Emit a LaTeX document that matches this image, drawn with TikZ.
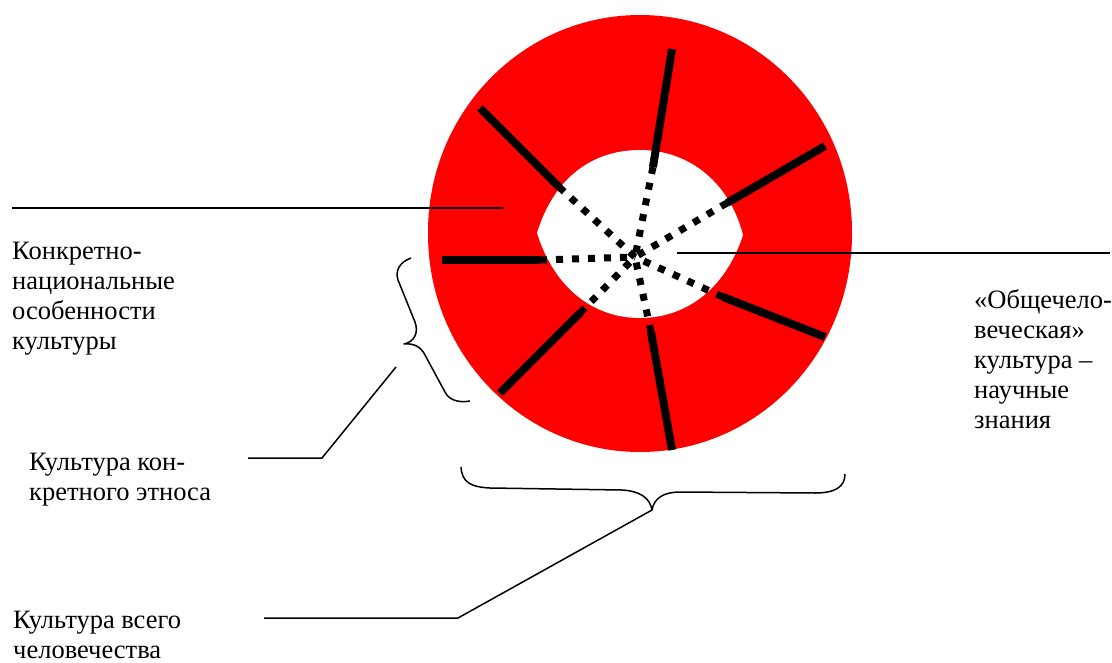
\documentclass[tikz,border=0pt]{standalone}
\usepackage{fontspec}
\setmainfont{Liberation Serif}
\begin{document}
\begin{tikzpicture}[x=1pt,y=-1pt,
  thin line/.style={draw=black,line width=1.5pt,line join=round},
  spoke solid/.style={draw=black,line width=8pt},
  spoke dotted/.style={draw=black,line width=7pt,dash pattern=on 7pt off 9pt},
  label text/.style={inner sep=0pt,anchor=base west,align=left,font={\fontsize{26.5}{30}\selectfont}}]
\useasboundingbox (0,0) rectangle (1112,662);
% red ring
\fill[red] (428,232) arc[start angle=180,end angle=360,x radius=212,y radius=217]
  -- (852,234) arc[start angle=0,end angle=180,x radius=212,y radius=218] -- cycle;
% white core
\fill[white] (537,233) .. controls (555,175) and (595,150) .. (640,150)
  .. controls (685,150) and (728,178) .. (743,235)
  .. controls (725,290) and (685,318) .. (640,318)
  .. controls (595,318) and (555,290) .. (537,233) -- cycle;
% spokes
\coordinate (C) at (635,257);
\coordinate (o1) at (672,49);  \coordinate (n1) at (653,167);
\coordinate (o2) at (480,108); \coordinate (n2) at (559,187);
\coordinate (o3) at (825,146); \coordinate (n3) at (727,203);
\coordinate (o4) at (442,260); \coordinate (n4) at (540,260);
\coordinate (o5) at (500,393); \coordinate (n5) at (580,313);
\coordinate (o6) at (672,450); \coordinate (n6) at (651,332);
\coordinate (o7) at (825,337); \coordinate (n7) at (723,297);
\foreach \k in {1,...,7}{
  \draw[spoke solid] (o\k) -- (n\k);
  \draw[spoke dotted] (n\k) -- (C);
}
% texts (anchor is the baseline of the last line)
\node[label text] (t1) at (12,349) {Конкретно-\\национальные\\особенности\\культуры};
\node[label text] (t2) at (974,428) {«Общечело-\\веческая»\\культура –\\научные\\знания};
\node[label text] (t3) at (29,500) {Культура кон-\\кретного этноса};
\node[label text] (t4) at (13,658) {Культура всего\\человечества};
% pointer lines
\coordinate (a1) at (12,208); \coordinate (a2) at (503,208);
\draw[thin line] (a1) -- (a2);
\coordinate (b1) at (677,253); \coordinate (b2) at (1110,253);
\draw[thin line] (b1) -- (b2);
% left brace
\draw[thin line] (411,258) .. controls (400,262) and (395,270) .. (398,280) -- (415,322)
  .. controls (419,333) and (414,342) .. (404,344)
  .. controls (414,343) and (421,347) .. (425,355) -- (445,392)
  .. controls (449,400) and (458,403) .. (470,401);
\coordinate (p1) at (396,367); \coordinate (p2) at (322,458); \coordinate (p3) at (248,458);
\draw[thin line] (p1) -- (p2) -- (p3);
% bottom brace
\draw[thin line] (461,467) .. controls (462,482) and (470,487) .. (490,488) -- (622,490)
  .. controls (640,491) and (650,498) .. (652,510)
  .. controls (654,498) and (664,492) .. (680,492) -- (815,493)
  .. controls (835,493) and (845,487) .. (845,474);
\coordinate (q1) at (652,510); \coordinate (q2) at (458,618); \coordinate (q3) at (264,618);
\draw[thin line] (q1) -- (q2) -- (q3);
\end{tikzpicture}
\end{document}
